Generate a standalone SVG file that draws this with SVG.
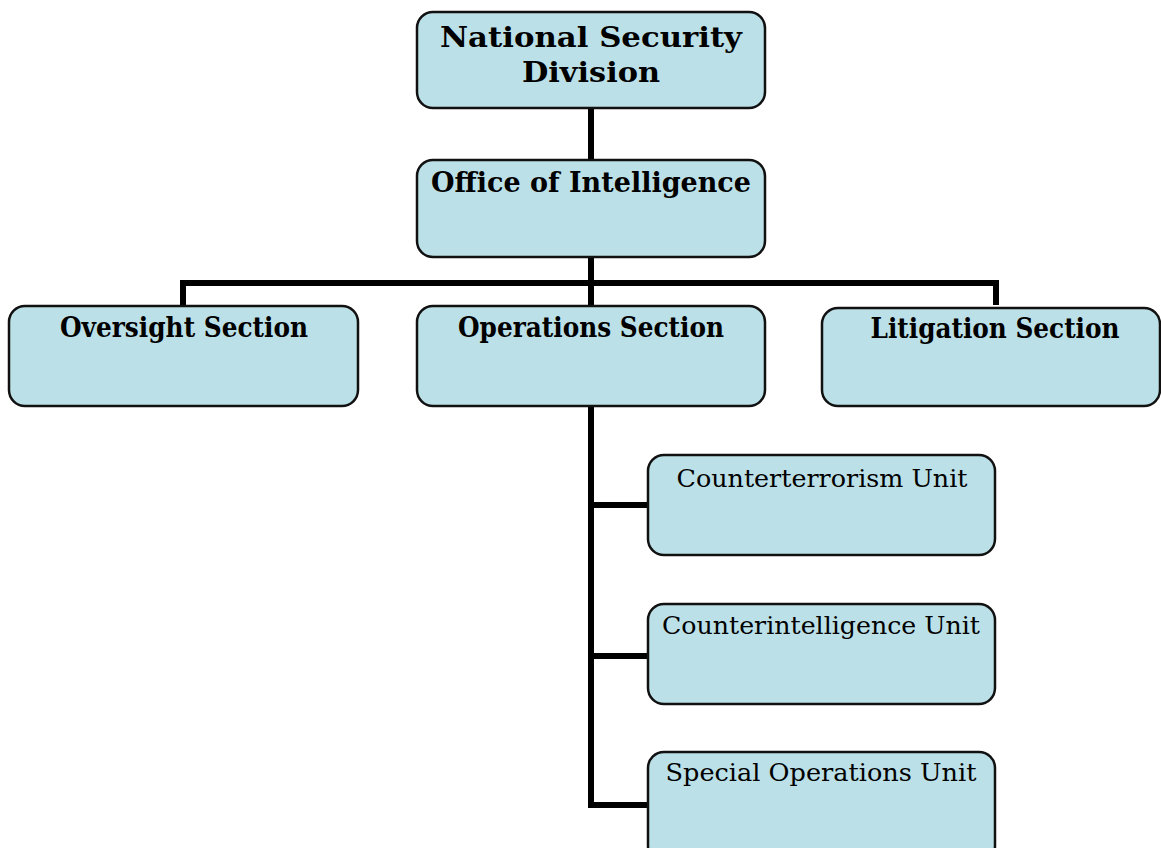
<svg xmlns="http://www.w3.org/2000/svg" width="1161" height="848" viewBox="0 0 1161 848">
<style>
.box{fill:#bce0e7;stroke:#111;stroke-width:2.5}
.b{font-family:"DejaVu Serif","Liberation Serif",serif;font-weight:bold;font-size:28px;fill:#000;text-anchor:middle}
.r{font-family:"DejaVu Serif","Liberation Serif",serif;font-size:25px;fill:#000;text-anchor:middle}
.c{fill:none;stroke:#000;stroke-width:6}
</style>
<rect width="1161" height="848" fill="#fff"/>
<g id="connectors">
<path class="c" d="M591 108V159M591 257V305M183 305V283H996V305"/>
<path class="c" d="M591 406V805H648M591 505H648M591 656H648"/>
</g>
<g id="nsd"><rect class="box" x="417" y="12" width="348" height="96" rx="16"/>
<text class="b" x="591" y="47" textLength="302" lengthAdjust="spacingAndGlyphs">National Security</text>
<text class="b" x="591" y="82" textLength="138" lengthAdjust="spacingAndGlyphs">Division</text></g>
<g id="oi"><rect class="box" x="417" y="160" width="348" height="97" rx="16"/>
<text class="b" x="591" y="192" textLength="320" lengthAdjust="spacingAndGlyphs">Office of Intelligence</text></g>
<g id="oversight"><rect class="box" x="9" y="306" width="349" height="100" rx="16"/>
<text class="b" x="184" y="337" textLength="248" lengthAdjust="spacingAndGlyphs">Oversight Section</text></g>
<g id="operations"><rect class="box" x="417" y="306" width="348" height="100" rx="16"/>
<text class="b" x="591" y="337" textLength="266" lengthAdjust="spacingAndGlyphs">Operations Section</text></g>
<g id="litigation"><rect class="box" x="822" y="308" width="338" height="98" rx="16"/>
<text class="b" x="995" y="338" textLength="249" lengthAdjust="spacingAndGlyphs">Litigation Section</text></g>
<g id="ct"><rect class="box" x="648" y="455" width="347" height="100" rx="16"/>
<text class="r" x="822" y="487" textLength="291" lengthAdjust="spacingAndGlyphs">Counterterrorism Unit</text></g>
<g id="ci"><rect class="box" x="648" y="604" width="347" height="100" rx="16"/>
<text class="r" x="821" y="634" textLength="318" lengthAdjust="spacingAndGlyphs">Counterintelligence Unit</text></g>
<g id="so"><rect class="box" x="648" y="752" width="347" height="110" rx="16"/>
<text class="r" x="821" y="781" textLength="311" lengthAdjust="spacingAndGlyphs">Special Operations Unit</text></g>
</svg>
